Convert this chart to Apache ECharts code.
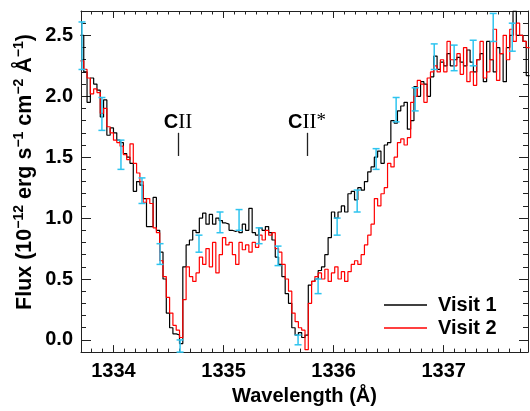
<!DOCTYPE html>
<html>
<head>
<meta charset="utf-8">
<script src="https://cdn.jsdelivr.net/npm/echarts@6/dist/echarts.min.js"></script>
<style>
html,body{margin:0;padding:0;background:#fff;}
#chart{width:530px;height:411px;}
</style>
</head>
<body>
<div id="chart"></div>
<script>
// bin edges (Angstrom)
var wave = [
  1333.70,1333.73,1333.76,1333.79,1333.82,1333.85,1333.88,1333.91,1333.94,1333.97,
  1334.00,1334.03,1334.06,1334.09,1334.12,1334.15,1334.18,1334.21,1334.24,1334.27,
  1334.30,1334.33,1334.36,1334.39,1334.42,1334.45,1334.48,1334.51,1334.54,1334.57,
  1334.60,1334.63,1334.66,1334.69,1334.72,1334.75,1334.78,1334.81,1334.84,1334.87,
  1334.90,1334.93,1334.96,1334.99,1335.02,1335.05,1335.08,1335.11,1335.14,1335.17,
  1335.20,1335.23,1335.26,1335.29,1335.32,1335.35,1335.38,1335.41,1335.44,1335.47,
  1335.50,1335.53,1335.56,1335.59,1335.62,1335.65,1335.68,1335.71,1335.74,1335.77,
  1335.80,1335.83,1335.86,1335.89,1335.92,1335.95,1335.98,1336.01,1336.04,1336.07,
  1336.10,1336.13,1336.16,1336.19,1336.22,1336.25,1336.28,1336.31,1336.34,1336.37,
  1336.40,1336.43,1336.46,1336.49,1336.52,1336.55,1336.58,1336.61,1336.64,1336.67,
  1336.70,1336.73,1336.76,1336.79,1336.82,1336.85,1336.88,1336.91,1336.94,1336.97,
  1337.00,1337.03,1337.06,1337.09,1337.12,1337.15,1337.18,1337.21,1337.24,1337.27,
  1337.30,1337.33,1337.36,1337.39,1337.42,1337.45,1337.48,1337.51,1337.54,1337.57,
  1337.60,1337.63,1337.66,1337.69,1337.72,1337.75,1337.78
];
// flux in 1e-12 erg/s/cm2/A, one value per bin
var visit1 = [
  2.50,2.20,1.95,2.15,2.10,2.05,1.83,1.97,1.68,1.74,
  1.70,1.64,1.62,1.53,1.50,1.45,1.22,1.30,1.27,1.16,
  0.93,0.93,1.17,0.90,0.72,0.50,0.22,0.10,0.05,0.04,
  -0.03,0.60,0.78,0.82,0.90,0.88,1.00,1.04,0.95,1.03,
  0.95,1.00,0.98,0.96,0.95,0.90,0.89,0.90,0.88,0.95,
  0.90,1.08,0.88,0.86,0.92,0.90,0.93,0.88,0.82,0.68,
  0.62,0.52,0.38,0.30,0.10,0.04,0.06,0.02,0.04,0.45,
  0.48,0.50,0.57,0.60,0.70,0.84,1.05,1.00,1.05,1.10,
  1.05,1.20,1.22,1.15,1.25,1.23,1.30,1.38,1.42,1.50,
  1.55,1.45,1.60,1.62,1.80,1.78,1.88,1.92,1.95,1.73,
  1.80,2.08,2.00,2.12,2.10,2.00,2.16,2.33,2.22,2.28,
  2.25,2.35,2.25,2.30,2.32,2.28,2.25,2.38,2.28,2.20,
  2.30,2.35,2.12,2.45,2.30,2.20,2.40,2.35,2.12,2.40,
  2.50,2.70,2.50,2.50,2.45,2.17
];
var visit2 = [
  2.29,2.22,2.15,2.02,2.06,2.03,1.86,1.90,1.75,1.70,
  1.64,1.62,1.59,1.52,1.48,1.61,1.45,1.37,1.30,1.13,
  1.16,1.12,0.92,0.88,0.65,0.52,0.35,0.22,0.12,0.08,
  0.02,0.33,0.60,0.52,0.48,0.55,0.68,0.62,0.75,0.60,
  0.80,0.55,0.70,0.84,0.78,0.80,0.70,0.62,0.80,0.74,
  0.78,0.72,0.80,0.76,0.86,0.82,0.90,0.86,0.88,0.75,
  0.72,0.62,0.50,0.40,0.22,0.15,0.10,0.08,-0.08,0.30,
  0.48,0.52,0.55,0.50,0.58,0.48,0.55,0.60,0.50,0.56,
  0.48,0.56,0.62,0.65,0.62,0.70,0.78,0.86,0.95,1.16,
  1.10,1.20,1.25,1.45,1.42,1.50,1.62,1.65,1.60,1.66,
  1.95,2.00,2.13,2.10,1.95,2.15,2.20,2.25,2.20,2.30,
  2.20,2.45,2.30,2.25,2.35,2.18,2.40,2.12,2.20,2.09,
  2.30,2.45,2.15,2.20,2.30,2.55,2.13,2.35,2.50,2.30,
  2.55,2.45,2.60,2.50,2.45,2.40
];
// error bars (visit 1)
var errWave = [1333.714,1333.895,1334.068,1334.259,1334.423,1334.605,1334.777,1334.968,
  1335.141,1335.323,1335.495,1335.677,1335.859,1336.032,1336.214,1336.386,1336.568,
  1336.741,1336.914,1337.095,1337.268,1337.450,1337.623];
var errLow  = [2.22,1.72,1.40,1.12,0.62,-0.10,0.72,0.88,0.90,0.79,0.61,-0.04,0.38,0.86,1.05,1.40,1.79,1.88,2.22,2.21,2.25,2.45,2.37];
var errHigh = [2.61,1.99,1.64,1.33,0.79,0.00,0.86,1.05,1.07,0.92,0.77,0.04,0.50,1.00,1.23,1.57,1.99,2.07,2.43,2.42,2.46,2.68,2.60];

// line identifications
var lineWave = [1334.586, 1335.759];
var lineLabels = ['{c|C}{r|II}', '{c|C}{r|II}{s|*}'];
var markBottom = 1.51, markTop = 1.70;

var xMajor = [1334, 1335, 1336, 1337];
var yMajor = [0, 0.5, 1.0, 1.5, 2.0, 2.5];
var xMin = 1333.705, xMax = 1337.766, yMin = -0.1, yMax = 2.7;

var xMinor = [], yMinor = [];
for (var t = 1; t <= 40; t++) xMinor.push(+(1333.7 + t * 0.1).toFixed(1));
for (var t = 0; t <= 28; t++) yMinor.push(+(-0.1 + t * 0.1).toFixed(1));

var FONT = '"Liberation Sans", Arial, Helvetica, sans-serif';
var SERIF = '"Liberation Serif", "Times New Roman", serif';
var AX = '#222';

function steps(flux) {
  var d = [];
  for (var i = 0; i < flux.length; i++) d.push([wave[i], flux[i]]);
  d.push([wave[flux.length], flux[flux.length - 1]]);
  return d;
}

function xAx(pos, ticks, len, labels) {
  return {
    type: 'value', position: pos, min: xMin, max: xMax,
    splitLine: {show: false},
    axisLine: {show: labels !== null, onZero: false, lineStyle: {color: AX, width: 1}},
    axisTick: {show: true, inside: true, length: len, customValues: ticks, lineStyle: {color: AX, width: 1}},
    axisLabel: labels ? {show: true, customValues: labels, margin: 9, color: '#000',
      fontSize: 20, fontWeight: 'bold', fontFamily: FONT,
      formatter: function (v) { return Math.round(v).toString(); }} : {show: false}
  };
}
function yAx(pos, ticks, len, labels) {
  return {
    type: 'value', position: pos, min: yMin, max: yMax,
    splitLine: {show: false},
    axisLine: {show: labels !== null, onZero: false, lineStyle: {color: AX, width: 1}},
    axisTick: {show: true, inside: true, length: len, customValues: ticks, lineStyle: {color: AX, width: 1}},
    axisLabel: labels ? {show: true, customValues: labels, margin: 8, color: '#000',
      fontSize: 20, fontWeight: 'bold', fontFamily: FONT,
      formatter: function (v) { return v.toFixed(1); }} : {show: false}
  };
}

var xBottom = xAx('bottom', xMajor, 7, xMajor);
xBottom.name = 'Wavelength (\u00c5)';
xBottom.nameLocation = 'middle';
xBottom.nameGap = 30;
xBottom.nameTextStyle = {fontSize: 20, fontWeight: 'bold', fontFamily: FONT, color: '#000'};

var chart = echarts.init(document.getElementById('chart'), null, {renderer: 'canvas'});

var option = {
  animation: false,
  backgroundColor: '#fff',
  textStyle: {fontFamily: FONT},
  grid: {left: 81, top: 11, width: 447, height: 349, containLabel: false},
  xAxis: [
    xBottom,
    xAx('bottom', xMinor, 3.5, null),
    xAx('top', xMajor, 7, []),
    xAx('top', xMinor, 3.5, null)
  ],
  yAxis: [
    yAx('left', yMajor, 10, yMajor),
    yAx('left', yMinor, 5, null),
    yAx('right', yMajor, 9, []),
    yAx('right', yMinor, 5, null)
  ],
  legend: {
    orient: 'vertical', left: 384, top: 295, padding: 0,
    itemWidth: 43, itemHeight: 14, itemGap: 3, selectedMode: false,
    textStyle: {fontSize: 20, fontWeight: 'bold', fontFamily: FONT, color: '#000', padding: [0, 0, 0, 6]},
    data: [
      {name: 'Visit 1', icon: 'path://M0,0H43V1.3H0Z'},
      {name: 'Visit 2', icon: 'path://M0,0H43V1.3H0Z'}
    ]
  },
  graphic: [{
    type: 'text', x: 25, y: 172, rotation: Math.PI / 2,
    style: {
      text: '{n|Flux (10}{s|\u221212}{n| erg s}{s|\u22121}{n| cm}{s|\u22122}{n| \u00c5}{s|\u22121}{n|)}',
      align: 'center', verticalAlign: 'middle',
      rich: {
        n: {fontSize: 21.5, fontWeight: 'bold', fontFamily: FONT, fill: '#000', lineHeight: 25},
        s: {fontSize: 14, fontWeight: 'bold', fontFamily: FONT, fill: '#000', verticalAlign: 'top', lineHeight: 15}
      }
    }
  }],
  series: [
    {
      name: 'Visit 1', type: 'line', step: 'end', data: steps(visit1),
      symbol: 'none', showSymbol: false, z: 3,
      lineStyle: {color: '#000', width: 1.2}, itemStyle: {color: '#000'},
      markLine: {
        symbol: 'none', silent: true, animation: false,
        lineStyle: {color: '#222', width: 1.3, type: 'solid'},
        label: {
          show: true, position: 'end', distance: 0,
          formatter: function (p) { return lineLabels[p.dataIndex]; },
          rich: {
            c: {fontSize: 20, fontWeight: 'bold', fontFamily: FONT, color: '#000'},
            r: {fontSize: 21, fontFamily: SERIF, color: '#000'},
            s: {fontSize: 19, fontFamily: SERIF, color: '#000', verticalAlign: 'top', lineHeight: 16}
          }
        },
        data: lineWave.map(function (w) {
          return [{coord: [w, markBottom]}, {coord: [w, markTop]}];
        })
      }
    },
    {
      name: 'Visit 2', type: 'line', step: 'end', data: steps(visit2),
      symbol: 'none', showSymbol: false, z: 4,
      lineStyle: {color: '#ff0000', width: 1.2}, itemStyle: {color: '#ff0000'}
    },
    {
      name: 'err', type: 'custom', z: 5,
      data: errWave.map(function (w, i) { return [w, errLow[i], errHigh[i]]; }),
      encode: {x: 0, y: [1, 2]},
      renderItem: function (params, api) {
        var p1 = api.coord([api.value(0), api.value(1)]);
        var p2 = api.coord([api.value(0), api.value(2)]);
        var w = 3.5;
        var st = {stroke: '#2ec4ef', lineWidth: 1.5};
        return {type: 'group', children: [
          {type: 'line', shape: {x1: p1[0], y1: p1[1], x2: p2[0], y2: p2[1]}, style: st},
          {type: 'line', shape: {x1: p1[0] - w, y1: p1[1], x2: p1[0] + w, y2: p1[1]}, style: st},
          {type: 'line', shape: {x1: p2[0] - w, y1: p2[1], x2: p2[0] + w, y2: p2[1]}, style: st}
        ]};
      }
    }
  ]
};
chart.setOption(option);
</script>
</body>
</html>
